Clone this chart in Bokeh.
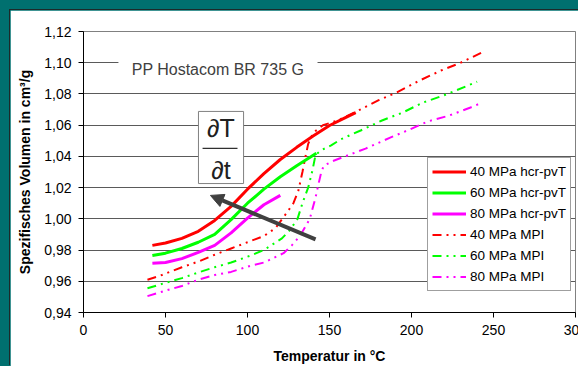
from bokeh.plotting import figure
from bokeh.models import (Range1d, FixedTicker, CustomJSTickFormatter, Legend, LegendItem,
                          Label, BoxAnnotation, Arrow, NormalHead)
from bokeh.layouts import column
from bokeh.embed import file_html
from bokeh.resources import INLINE

# ---------------- data ----------------
red_hcr_T = [42, 50, 60, 70, 80, 90, 100, 110, 120, 130, 140, 150, 160, 166]
red_hcr_V = [0.983, 0.9845, 0.9875, 0.992, 0.999, 1.008, 1.019, 1.029, 1.038, 1.0458, 1.053, 1.0598, 1.065, 1.068]

green_hcr_T = [42, 50, 60, 70, 80, 90, 100, 110, 120, 130, 142]
green_hcr_V = [0.9765, 0.978, 0.981, 0.985, 0.990, 0.9995, 1.010, 1.019, 1.027, 1.034, 1.042]

magenta_hcr_T = [42, 50, 60, 70, 80, 90, 100, 110, 120]
magenta_hcr_V = [0.9715, 0.972, 0.9745, 0.9785, 0.983, 0.991, 1.0005, 1.009, 1.015]

red_mpi_T = [39, 47, 60, 71, 80, 90, 100, 110, 117, 124, 128, 131, 133.5, 135, 137, 140, 146, 155, 165, 180, 191, 205, 218, 230, 243]
red_mpi_V = [0.961, 0.9637, 0.969, 0.973, 0.977, 0.981, 0.985, 0.989, 0.994, 1.004, 1.010, 1.018, 1.030, 1.038, 1.048, 1.055, 1.060, 1.063, 1.068, 1.076, 1.081, 1.0886, 1.095, 1.100, 1.1066]

green_mpi_T = [39, 50, 60, 71, 80, 90, 102, 110, 121, 126, 130.5, 133.5, 137, 139.6, 141.5, 145, 151, 157, 169, 182, 194.5, 207, 219.5, 240]
green_mpi_V = [0.9555, 0.959, 0.962, 0.966, 0.969, 0.972, 0.9765, 0.980, 0.9875, 0.993, 1.000, 1.010, 1.020, 1.031, 1.041, 1.044, 1.047, 1.051, 1.0566, 1.063, 1.068, 1.0745, 1.079, 1.0878]

magenta_mpi_T = [39, 50, 60, 70, 80, 90, 102, 110, 122, 127, 132, 138, 141.5, 143, 145, 146.5, 152, 161, 172, 187, 197.5, 210, 222.5, 236, 242]
magenta_mpi_V = [0.9505, 0.954, 0.957, 0.961, 0.964, 0.966, 0.970, 0.972, 0.978, 0.983, 0.989, 1.000, 1.0137, 1.021, 1.030, 1.034, 1.037, 1.0406, 1.045, 1.052, 1.0566, 1.0624, 1.066, 1.0713, 1.074]

legend_labels = ["40 MPa hcr-pvT", "60 MPa hcr-pvT", "80 MPa hcr-pvT",
                 "40 MPa MPI", "60 MPa MPI", "80 MPa MPI"]

x_ticks = [0, 50, 100, 150, 200, 250, 300]
y_ticks = [0.94, 0.96, 0.98, 1.00, 1.02, 1.04, 1.06, 1.08, 1.10, 1.12]

title_text = "PP Hostacom BR 735 G"
x_label = "Temperatur in °C"
y_label = "Spezifisches Volumen in cm³/g"

# ---------------- styles ----------------
FONT = "Liberation Sans"
TEAL = "#00706f"
RED, GREEN, MAGENTA = "#ff0000", "#00ff00", "#ff00ff"
DASH = "9 5 2 5 2 5"

p = figure(frame_width=492, frame_height=281, margin=(10, 0, 0, 10),
           output_backend="svg", toolbar_location=None,
           x_range=Range1d(0, 300), y_range=Range1d(0.94, 1.12),
           min_border_left=73, min_border_right=12, min_border_top=21, min_border_bottom=54,
           background_fill_color="white", border_fill_color="white",
           outline_line_color="#808080", outline_line_width=1)
p.styles = {"box-shadow": "-1px -1px 0 0 #1c2a2a"}

# axes
p.xaxis.ticker = FixedTicker(ticks=x_ticks)
p.yaxis.ticker = FixedTicker(ticks=y_ticks)
p.yaxis.formatter = CustomJSTickFormatter(code="return tick.toFixed(2).replace('.', ',');")
p.xaxis.formatter = CustomJSTickFormatter(code="return tick.toFixed(0);")
for ax in (p.xaxis, p.yaxis):
    ax.axis_line_color = "black"
    ax.major_tick_line_color = "black"
    ax.major_tick_out = 5
    ax.major_tick_in = 0
    ax.minor_tick_line_color = None
    ax.major_label_text_font = FONT
    ax.major_label_text_font_size = "14px"
    ax.major_label_text_color = "black"
    ax.axis_label_text_font = FONT
    ax.axis_label_text_font_size = "14px"
    ax.axis_label_text_font_style = "bold"
    ax.axis_label_text_color = "black"
p.xaxis.axis_label = x_label
p.yaxis.axis_label = y_label
p.yaxis.major_label_standoff = 7
p.xaxis.major_label_standoff = 7
p.yaxis.axis_label_standoff = 8
p.xaxis.axis_label_standoff = 10

p.xgrid.grid_line_color = None
p.ygrid.grid_line_color = "#5a5a5a"
p.ygrid.grid_line_width = 1

# title box
p.add_layout(BoxAnnotation(left=21.3, right=142.7, bottom=1.0835, top=1.1078,
                           fill_color="white", fill_alpha=1.0, line_color=None))
p.add_layout(Label(x=82, y=1.0955, text=title_text, text_align="center", text_baseline="middle",
                   text_font=FONT, text_font_size="16px", text_color="#404040"))

# lines
r_red = p.line(red_mpi_T, red_mpi_V, color=RED, line_width=2, line_dash=DASH)
r_green = p.line(green_mpi_T, green_mpi_V, color=GREEN, line_width=2, line_dash=DASH)
r_mag = p.line(magenta_mpi_T, magenta_mpi_V, color=MAGENTA, line_width=2, line_dash=DASH)
s_red = p.line(red_hcr_T, red_hcr_V, color=RED, line_width=3)
s_green = p.line(green_hcr_T, green_hcr_V, color=GREEN, line_width=3)
s_mag = p.line(magenta_hcr_T, magenta_hcr_V, color=MAGENTA, line_width=3)

# dT/dt box
p.add_layout(BoxAnnotation(left=70.1, right=97.6, bottom=1.0226, top=1.0688,
                           fill_color="white", fill_alpha=1.0,
                           line_color="#808080", line_alpha=1.0, line_width=1))
p.add_layout(Label(x=83.8, y=1.0579, text="∂T", text_align="center", text_baseline="middle",
                   text_font=FONT, text_font_size="25px", text_color="#202020"))
p.add_layout(Label(x=83.8, y=1.031, text="∂t", text_align="center", text_baseline="middle",
                   text_font=FONT, text_font_size="25px", text_color="#202020"))
p.segment(x0=[72.6], y0=[1.0451], x1=[93.9], y1=[1.0451], line_color="#303030",
          line_width=1.2, level="overlay")

# arrow
p.add_layout(Arrow(end=NormalHead(size=13, fill_color="#404040", line_color="#404040"),
                   x_start=141.5, y_start=0.9868, x_end=77.4, y_end=1.015,
                   line_color="#404040", line_width=4))

# legend
legend = Legend(items=[LegendItem(label=legend_labels[0], renderers=[s_red]),
                       LegendItem(label=legend_labels[1], renderers=[s_green]),
                       LegendItem(label=legend_labels[2], renderers=[s_mag]),
                       LegendItem(label=legend_labels[3], renderers=[r_red]),
                       LegendItem(label=legend_labels[4], renderers=[r_green]),
                       LegendItem(label=legend_labels[5], renderers=[r_mag])],
                location=(344, 21), orientation="vertical",
                label_text_font=FONT, label_text_font_size="13.5px", label_text_color="black",
                glyph_width=34, glyph_height=19, label_height=19, label_standoff=4,
                spacing=2, padding=4, margin=0,
                border_line_color="#404040", border_line_width=1,
                background_fill_color="white", background_fill_alpha=1.0)
p.add_layout(legend, "center")

lay = column(p, width=578, height=366, styles={"background-color": TEAL, "overflow": "hidden"})

open("out.html", "w").write(file_html(lay, INLINE))
